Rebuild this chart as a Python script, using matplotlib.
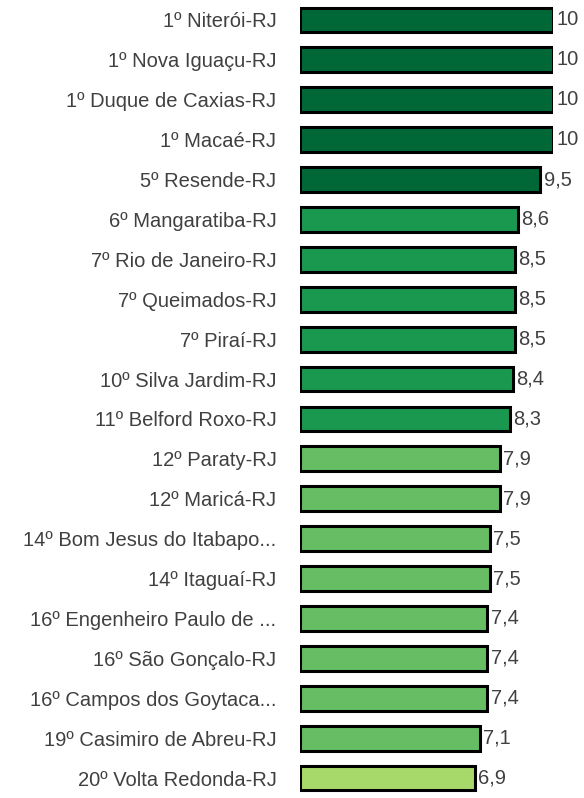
import matplotlib
matplotlib.use("Agg")
import matplotlib.pyplot as plt
import numpy as np

plt.rcParams.update({"font.family": ["Liberation Sans", "DejaVu Sans"]})

cities = [
    "1º Niterói-RJ", "1º Nova Iguaçu-RJ", "1º Duque de Caxias-RJ",
    "1º Macaé-RJ", "5º Resende-RJ", "6º Mangaratiba-RJ",
    "7º Rio de Janeiro-RJ", "7º Queimados-RJ", "7º Piraí-RJ",
    "10º Silva Jardim-RJ", "11º Belford Roxo-RJ", "12º Paraty-RJ",
    "12º Maricá-RJ", "14º Bom Jesus do Itabapo...", "14º Itaguaí-RJ",
    "16º Engenheiro Paulo de ...", "16º São Gonçalo-RJ",
    "16º Campos dos Goytaca...", "19º Casimiro de Abreu-RJ",
    "20º Volta Redonda-RJ",
]
scores = [10, 10, 10, 10, 9.5, 8.6, 8.5, 8.5, 8.5, 8.4, 8.3, 7.9, 7.9,
          7.5, 7.5, 7.4, 7.4, 7.4, 7.1, 6.9]


def shade(v):
    if v >= 9:
        return "#006837"
    if v >= 8:
        return "#1a9850"
    if v >= 7:
        return "#66bd63"
    return "#a6d96a"


fig = plt.figure(figsize=(5.84, 7.98), dpi=100)
ax = fig.add_axes([300 / 584, 0.0, 253 / 584, 1.0])
y = np.arange(len(cities))
ax.barh(y, scores, height=0.62, color=[shade(v) for v in scores],
        edgecolor="black", linewidth=2.2)
for yi, v in zip(y, scores):
    txt = f"{v:g}".replace(".", ",")
    ax.annotate(txt, (v, yi), textcoords="offset points", xytext=(2.5, 0),
                va="center", ha="left", fontsize=14.5, color="#404040")
ax.set_xlim(0, 10)
ax.set_ylim(len(cities) - 0.5, -0.5)
ax.set_yticks(y, cities, fontsize=14.5, color="#404040")
ax.tick_params(axis="y", length=0, pad=17)
ax.set_xticks([])
for s in ax.spines.values():
    s.set_visible(False)
ax.patch.set_alpha(0)

fig.savefig("out.png", dpi=100)
